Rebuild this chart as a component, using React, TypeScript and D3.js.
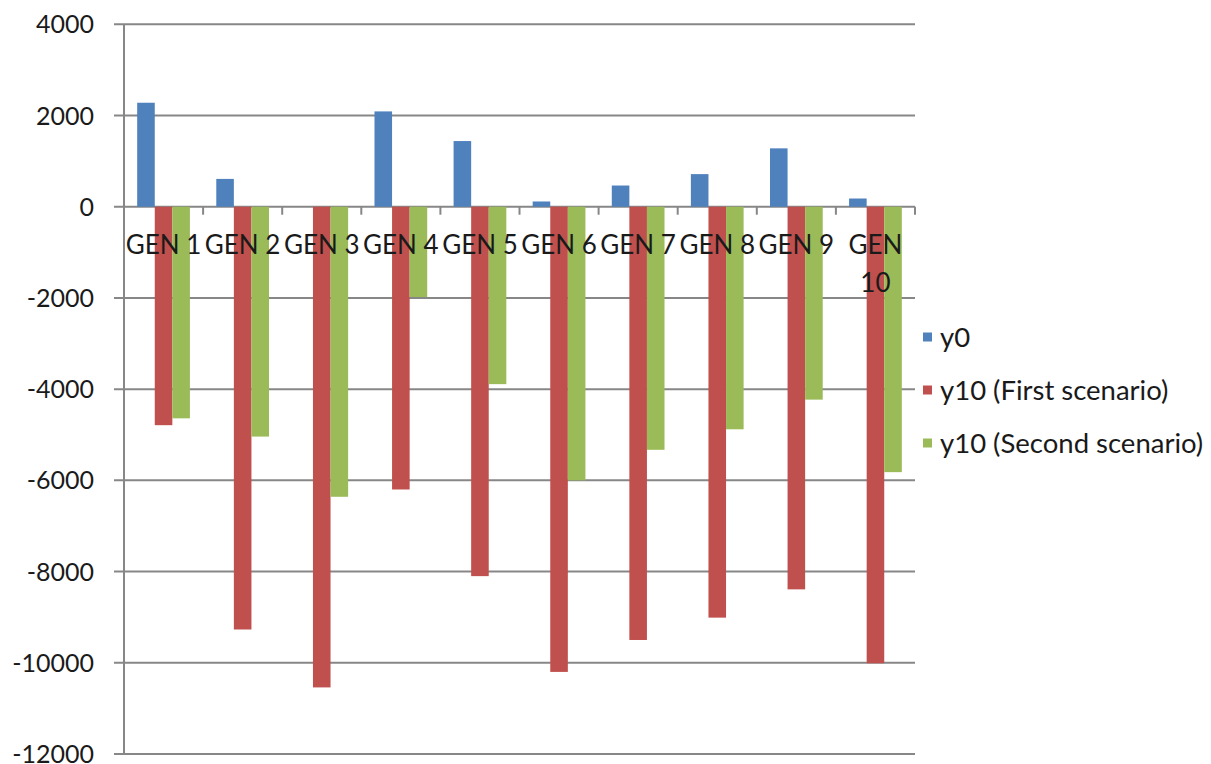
import React from "react";
import * as d3 from "d3";

const categories = ["GEN 1", "GEN 2", "GEN 3", "GEN 4", "GEN 5", "GEN 6", "GEN 7", "GEN 8", "GEN 9", "GEN 10"];
const seriesNames = ["y0", "y10 (First scenario)", "y10 (Second scenario)"];
const y0 = [2280, 610, 0, 2090, 1440, 115, 465, 715, 1280, 180];
const y10First = [-4790, -9270, -10540, -6200, -8100, -10200, -9500, -9010, -8390, -10010];
const y10Second = [-4640, -5040, -6360, -1980, -3890, -6000, -5330, -4880, -4230, -5820];
const yTicks = [4000, 2000, 0, -2000, -4000, -6000, -8000, -10000, -12000];
const colors = ["#4F81BD", "#C0504D", "#9BBB59"];

const W = 1211;
const H = 764;
const plotLeft = 124;
const plotRight = 915;
const plotTop = 24.3;
const plotBottom = 754;
const FONT = "Lato, 'Open Sans', sans-serif";

export default function App() {
  const series = [y0, y10First, y10Second];
  const x = d3.scaleBand<string>().domain(categories).range([plotLeft, plotRight]).paddingInner(0).paddingOuter(0);
  const y = d3.scaleLinear().domain([-12000, 4000]).range([plotBottom, plotTop]);
  const step = x.step();
  const barW = step / 4.5;
  const offset = (step - 3 * barW) / 2;
  const grid = "#878787";

  return (
    <svg width={W} height={H} style={{ position: "absolute", left: 0, top: 0, background: "#fff" }}>
      <rect x={0} y={0} width={W} height={H} fill="#fff" />
      {yTicks.map((t) => (
        <line key={t} x1={plotLeft - 10} x2={plotRight} y1={y(t)} y2={y(t)} stroke={grid} strokeWidth={2} />
      ))}
      <line x1={plotLeft} x2={plotLeft} y1={plotTop} y2={plotBottom} stroke={grid} strokeWidth={2} />
      {yTicks.map((t) => (
        <text key={"l" + t} x={94} y={y(t)} dy="0.36em" textAnchor="end" fontFamily={FONT} fontSize={25} fill="#1a1a1a">
          {t}
        </text>
      ))}
      {series.map((vals, si) =>
        vals.map((v, i) => {
          const bx = (x(categories[i]) as number) + offset + si * barW;
          const y1 = y(Math.max(0, v));
          const y2 = y(Math.min(0, v));
          return <rect key={si + "-" + i} x={bx} y={y1} width={barW} height={Math.max(0, y2 - y1)} fill={colors[si]} />;
        })
      )}
      {categories.map((c) => (
        <line key={"t" + c} x1={(x(c) as number) + step} x2={(x(c) as number) + step} y1={y(0)} y2={y(0) + 8} stroke={grid} strokeWidth={2} />
      ))}
      {categories.map((c) => {
        const cx = (x(c) as number) + step / 2;
        const parts = c === "GEN 10" ? ["GEN", "10"] : [c];
        return (
          <text key={"c" + c} x={cx} y={245} textAnchor="middle" fontFamily={FONT} fontSize={26} fill="#1a1a1a">
            {parts.map((p, k) => (
              <tspan key={k} x={cx} dy={k === 0 ? "0.36em" : 38}>
                {p}
              </tspan>
            ))}
          </text>
        );
      })}
      {seriesNames.map((n, i) => {
        const ly = 337 + i * 53;
        return (
          <g key={n}>
            <rect x={923} y={ly - 4.5} width={9} height={9} fill={colors[i]} />
            <text x={940} y={ly} dy="0.36em" fontFamily={FONT} fontSize={27.5} fill="#1a1a1a">
              {n}
            </text>
          </g>
        );
      })}
    </svg>
  );
}
